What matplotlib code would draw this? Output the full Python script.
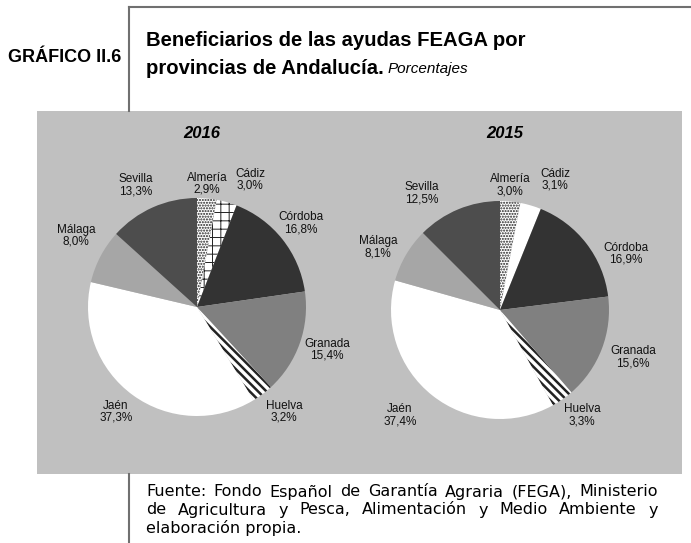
import matplotlib
matplotlib.use("Agg")
import matplotlib.pyplot as plt
from matplotlib.patches import Rectangle
from matplotlib.lines import Line2D
import numpy as np

W, H = 691, 543

# datos
provincias = ["Almería", "Cádiz", "Córdoba", "Granada", "Huelva", "Jaén", "Málaga", "Sevilla"]
val_2016 = [2.9, 3.0, 16.8, 15.4, 3.2, 37.3, 8.0, 13.3]
val_2015 = [3.0, 3.1, 16.9, 15.6, 3.3, 37.4, 8.1, 12.5]
etiquetas_2016 = ["2,9%", "3,0%", "16,8%", "15,4%", "3,2%", "37,3%", "8,0%", "13,3%"]
etiquetas_2015 = ["3,0%", "3,1%", "16,9%", "15,6%", "3,3%", "37,4%", "8,1%", "12,5%"]

colores = ["white", "white", "#333333", "#808080", "white", "white", "#a6a6a6", "#4d4d4d"]
hatch_2016 = ["......", "++", None, None, "\\\\\\\\", None, None, None]
hatch_2015 = ["......", None, None, None, "\\\\\\\\", None, None, None]
grosor_hatch = {"++": 0.7, "......": 1.0, "\\\\\\\\": 1.8}

# posición de las etiquetas (px respecto al centro de la tarta)
pos_2016 = [(10, 123), (53, 127), (104, 84), (130, -43), (87, -105), (-81, -105), (-121, 71), (-61, 122)]
pos_2015 = [(10, 125), (55, 130), (126, 56), (133, -47), (82, -105), (-100, -105), (-122, 63), (-78, 117)]

FONT_T = ["Liberation Sans", "DejaVu Sans"]
FONT_L = ["Liberation Sans", "DejaVu Sans"]

plt.rcParams["hatch.linewidth"] = 1.6


def fx(x):
    return x / W


def fy(y):
    return 1 - y / H


fig = plt.figure(figsize=(W / 100, H / 100), dpi=100)

# marco
fig.add_artist(Rectangle((fx(37), fy(474)), fx(682) - fx(37), fy(111) - fy(474),
                         transform=fig.transFigure, facecolor="#c0c0c0", edgecolor="none", zorder=0))
fig.add_artist(Line2D([fx(129), fx(129)], [fy(7), fy(111)], transform=fig.transFigure,
                      color="#707070", lw=1.5))
fig.add_artist(Line2D([fx(129), fx(129)], [fy(474), fy(543)], transform=fig.transFigure,
                      color="#707070", lw=1.5))
fig.add_artist(Line2D([fx(129), 1], [fy(7), fy(7)], transform=fig.transFigure,
                      color="#707070", lw=1.5))


def tarta(cx, cy, r, valores, etiquetas, hatches, posiciones, anio):
    k = 1.7
    ax = fig.add_axes([fx(cx - k * r), fy(cy + k * r), 2 * k * r / W, 2 * k * r / H])
    wedges, _ = ax.pie(valores, colors=colores, startangle=90, counterclock=False,
                       radius=1, wedgeprops=dict(linewidth=0, edgecolor="black"))
    ax.set_aspect("auto")
    ax.set_xlim(-k, k)
    ax.set_ylim(-k, k)
    ax.axis("off")
    for w, h in zip(wedges, hatches):
        if h:
            w.set_hatch(h)
            w.set_edgecolor("#222222")
            w.set_linewidth(0)
            if hasattr(w, "set_hatch_linewidth"):
                w.set_hatch_linewidth(grosor_hatch[h])
    for nom, et, (dx, dy) in zip(provincias, etiquetas, posiciones):
        ax.text(dx / r, dy / r, nom + "\n" + et, ha="center", va="center",
                fontsize=8.5, family=FONT_L, color="#111111", linespacing=1.0)
    fig.text(fx(cx + 5), fy(133), anio, ha="center", va="center", fontsize=12,
             fontweight="bold", fontstyle="italic", family=FONT_L)


tarta(197, 307, 109, val_2016, etiquetas_2016, hatch_2016, pos_2016, "2016")
tarta(500, 310, 109, val_2015, etiquetas_2015, hatch_2015, pos_2015, "2015")

# cabecera
fig.text(fx(8), fy(57), "GRÁFICO II.6", ha="left", va="center", fontsize=13,
         fontweight="bold", family=FONT_L)
fig.text(fx(146), fy(40), "Beneficiarios de las ayudas FEAGA por", ha="left", va="center",
         fontsize=14.6, fontweight="bold", family=FONT_T)
t2 = fig.text(fx(146), fy(68), "provincias de Andalucía.", ha="left", va="center",
              fontsize=14.6, fontweight="bold", family=FONT_T)

fig.canvas.draw()
rend = fig.canvas.get_renderer()
bb = t2.get_window_extent(rend)
fig.text(bb.x1 / W + 4 / W, fy(69), "Porcentajes", ha="left", va="center",
         fontsize=11, fontstyle="italic", family=FONT_T)

# fuente (justificada)
lineas = ["Fuente: Fondo Español de Garantía Agraria (FEGA), Ministerio",
          "de Agricultura y Pesca, Alimentación y Medio Ambiente y",
          "elaboración propia."]
ys = [492, 510, 528]
x0, x1 = 146, 658
fs = 11.5
for i, (lin, y) in enumerate(zip(lineas, ys)):
    if i == len(lineas) - 1:
        fig.text(fx(x0), fy(y), lin, ha="left", va="center", fontsize=fs,
                 family=["DejaVu Sans"])
        continue
    palabras = lin.split(" ")
    txts = [fig.text(0, fy(y), p, ha="left", va="center", fontsize=fs,
                     family=["DejaVu Sans"]) for p in palabras]
    anchos = [t.get_window_extent(rend).width for t in txts]
    hueco = (x1 - x0 - sum(anchos)) / (len(palabras) - 1)
    x = x0
    for t, a in zip(txts, anchos):
        t.set_x(fx(x))
        x += a + hueco

fig.savefig("out.png", dpi=100)
